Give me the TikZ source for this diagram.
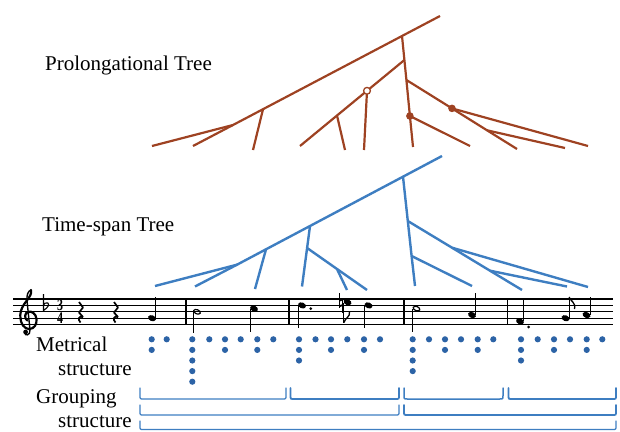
\documentclass[tikz,border=0pt]{standalone}
\usepackage{fontspec}
\setmainfont{Liberation Serif}
\usetikzlibrary{calc}
\definecolor{prolcolor}{RGB}{158,66,34}
\definecolor{spancolor}{RGB}{62,126,193}
\definecolor{metcolor}{RGB}{44,99,166}

\tikzset{
  prol/.style={prolcolor, line width=2.2pt},
  span/.style={spancolor, line width=2.4pt},
  grp/.style={spancolor, line cap=round},
  lbl/.style={font=\fontsize{21}{24}\selectfont, inner sep=0pt},
  stemln/.style={line width=1.1pt},
  staffln/.style={line width=1.2pt},
  tsig/.style={font=\bfseries\fontsize{12}{9.6}\selectfont, inner sep=0pt, align=center,
               yscale=1.35, transform shape},
}

% note heads, stems, rests, brackets
\newcommand{\nhead}[2]{\fill[rotate around={-22:(#1,#2)}] (#1,#2) ellipse (4.1pt and 2.9pt);}
\newcommand{\nhollow}[2]{\draw[line width=1.2pt, rotate around={-22:(#1,#2)}] (#1,#2) ellipse (3.5pt and 2.1pt);}
\newcommand{\nstemup}[3]{\draw[stemln] (#1+3.6,#2-0.5) -- (#1+3.6,#3);}
\newcommand{\nstemdn}[3]{\draw[stemln] (#1-3.6,#2+0.5) -- (#1-3.6,#3);}
\newcommand{\qrest}[1]{\draw[line width=1.7pt, line join=bevel] (#1-1.5,302) -- (#1+2.5,307.5) -- (#1-1.5,312.5) -- (#1+2.5,317) .. controls (#1-2,315.5) and (#1-3,319.5) .. (#1,322.5);}
\newcommand{\grpbr}[5]{\draw[grp, line width=#5pt] (#1,#3) -- (#1,#4-3.5) .. controls (#1,#4) .. (#1+3.5,#4) -- (#2-3.5,#4) .. controls (#2,#4) .. (#2,#4-3.5) -- (#2,#3);}

\begin{document}
\begin{tikzpicture}[x=1pt,y=-1pt]
    \useasboundingbox (0,0) rectangle (620,431);

    % Labels
    \node[lbl, anchor=base west] (prollbl) at (45,70) {Prolongational Tree};
    \node[lbl, anchor=base west] (spanlbl) at (42,231) {Time-span Tree};
    \node[lbl, anchor=base west] (metlbl) at (36,351.5) {Metrical};
    \node[lbl, anchor=base west] (metlblb) at (58,375) {structure};
    \node[lbl, anchor=base west] (grplbl) at (36,403) {Grouping};
    \node[lbl, anchor=base west] (grplblb) at (58,427) {structure};

    % Prolongational tree
    \coordinate (pt) at (440,16);
    \coordinate (pa) at (402,36);
    \coordinate (pb) at (263,109.2);
    \coordinate (pc) at (233,125);
    \coordinate (pd) at (404.4,60);
    \coordinate (pe) at (406.4,80);
    \coordinate (pf) at (409.9,116);
    \coordinate (po) at (367,90.8);
    \coordinate (pg) at (337,115.5);
    \coordinate (pF) at (452,108.4);
    \coordinate (ph) at (487,130.3);
    \foreach \nm/\x/\y in {p1/152/146, p2/193/146, p3/253/150, p4/300/146, p5/345/150,
                           p6/364/150, p7/413/147, p8/470/146, p9/517/149, p10/565/148, p11/588/146}
        \coordinate (\nm) at (\x,\y);
    \draw[prol] (pt) -- (pa) -- (pb) -- (pc) -- (p2);
    \draw[prol] (pc) -- (p1);
    \draw[prol] (pb) -- (p3);
    \draw[prol] (pa) -- (pd) -- (pe) -- (pf) -- (p7);
    \draw[prol] (pd) -- (po) -- (pg) -- (p4);
    \draw[prol] (pg) -- (p5);
    \draw[prol] (po) -- (p6);
    \draw[prol] (pe) -- (pF) -- (ph) -- (p9);
    \draw[prol] (ph) -- (p10);
    \draw[prol] (pF) -- (p11);
    \draw[prol] (pf) -- (p8);
    \draw[prolcolor, line width=1.3pt, fill=white] (po) circle (3.4pt);
    \fill[prolcolor] (pF) circle (3.8pt);
    \fill[prolcolor] (pf) circle (3.8pt);

    % Time-span tree
    \coordinate (qt) at (442,156);
    \coordinate (qa) at (403,176.7);
    \coordinate (qb) at (310,226);
    \coordinate (qc) at (266,249.3);
    \coordinate (qd) at (237,264.7);
    \coordinate (qe) at (307.1,248);
    \coordinate (qf) at (337,269);
    \coordinate (qg) at (407.8,221);
    \coordinate (qh) at (411.6,256);
    \coordinate (qi) at (452,247.7);
    \coordinate (qj) at (490,270.7);
    \foreach \nm/\x/\y in {q1/155/286, q2/195/286.5, q3/255/289, q4/302/286.5, q5/347/290,
                           q6/367/290, q7/415/286, q8/472/286, q9/522/290, q10/567/286.5, q11/588/287}
        \coordinate (\nm) at (\x,\y);
    \draw[span] (qt) -- (qa) -- (qb) -- (qc) -- (qd) -- (q2);
    \draw[span] (qd) -- (q1);
    \draw[span] (qc) -- (q3);
    \draw[span] (qb) -- (qe) -- (q4);
    \draw[span] (qe) -- (qf) -- (q6);
    \draw[span] (qf) -- (q5);
    \draw[span] (qa) -- (qg) -- (qh) -- (q7);
    \draw[span] (qg) -- (qi) -- (qj) -- (q9);
    \draw[span] (qj) -- (q10);
    \draw[span] (qi) -- (q11);
    \draw[span] (qh) -- (q8);

    % Staff
    \foreach \k in {0,...,4}
        \draw[staffln] (13,299+6.4*\k) -- (613,299+6.4*\k);
    \foreach \x in {186,289,404,507.5}
        \draw[line width=1.7pt] (\x,299) -- (\x,324.6);

    % Clef, key, time
    \draw[line width=2.2pt, line cap=round]
        (31,290) .. controls (33,297.5) and (20.5,303.5) .. (20.3,315)
        .. controls (20.1,324.5) and (25,329) .. (29,329)
        .. controls (34.5,329) and (37,324) .. (36.5,319)
        .. controls (36,313.5) and (31.5,311) .. (28.5,311.8)
        .. controls (24.5,312.5) and (24,318.5) .. (27.3,320.5);
    \draw[line width=1.4pt, line cap=round]
        (31,290) .. controls (28,291) and (26.5,295) .. (27,300.5) -- (30,330)
        .. controls (30.4,335.5) and (25,336.5) .. (24.5,332.5);
    \fill (25.6,332) circle (2.4pt);
    \draw[line width=1.1pt] (43.5,294) -- (43.5,310.5) .. controls (47.5,308) and (50,304.5) .. (47.8,303)
        .. controls (46,302) and (44.5,303.5) .. (43.5,305);
    \node[tsig] (tsig34) at (60,311.8) {3\\4};

    % Measure 1
    \qrest{80.5}
    \qrest{115.5}
    \nhead{152}{318.2} \nstemup{152}{318.2}{296.5}
    % Measure 2
    \nhollow{197}{311.8} \nstemdn{197}{311.8}{333}
    \nhead{254}{308.6} \nstemdn{254}{308.6}{331.5}
    % Measure 3
    \nhead{302}{305.4} \nstemdn{302}{305.4}{328}
    \fill (310.8,308.6) circle (1.5pt);
    \draw[line width=1.1pt] (339.5,293) -- (339.5,307.5);
    \draw[line width=1.1pt] (342.8,298.5) -- (342.8,313);
    \draw[line width=1.8pt] (339.5,300.6) -- (342.8,299.4);
    \draw[line width=1.8pt] (339.5,306.2) -- (342.8,305);
    \nhead{347.5}{302.2} \nstemdn{347.5}{302.2}{323}
    \draw[line width=1.3pt] (343.9,322.5) .. controls (345,318) and (350.5,317) .. (349.5,311.5);
    \nhead{368.5}{305.4} \nstemdn{368.5}{305.4}{328}
    % Measure 4
    \nhollow{416.5}{308.6} \nstemdn{416.5}{308.6}{331.5}
    \nhead{472}{315} \nstemup{472}{315}{292.7}
    % Measure 5
    \nhead{520}{321.4} \nstemup{520}{321.4}{298}
    \fill (528.5,327) circle (1.5pt);
    \nhead{565.5}{318.2} \nstemup{565.5}{318.2}{296.5}
    \draw[line width=1.3pt] (569.1,297) .. controls (570,301) and (576,302) .. (574.5,309);
    \nhead{586.5}{315} \nstemup{586.5}{315}{297}

    % Metrical dots
    \foreach \x/\n in {151.7/2, 166.7/1,
                       192.3/5, 209.3/1, 225/2, 240.7/1, 257.3/2, 273.3/1,
                       299/3, 315.5/1, 331/2, 347.3/1, 364/2, 380/1,
                       412.7/4, 429/1, 445/2, 461/1, 477.7/2, 493.3/1,
                       521/3, 537.7/1, 554/2, 570/1, 586.7/2, 602.3/1}
        \foreach \k in {1,...,\n}
            \fill[metcolor] (\x,339.3+10.6*\k-10.6) circle (3.1pt);

    % Grouping brackets
    \grpbr{140}{286}{388}{399}{1.2}
    \grpbr{290.5}{399}{388}{399}{1.8}
    \grpbr{404}{503}{388}{399}{1.5}
    \grpbr{508.5}{616}{388}{399}{1.8}
    \grpbr{140}{399}{405}{415}{1.2}
    \grpbr{404}{616}{405}{415}{1.8}
    \grpbr{140}{616}{421}{429.5}{1.2}
\end{tikzpicture}
\end{document}
